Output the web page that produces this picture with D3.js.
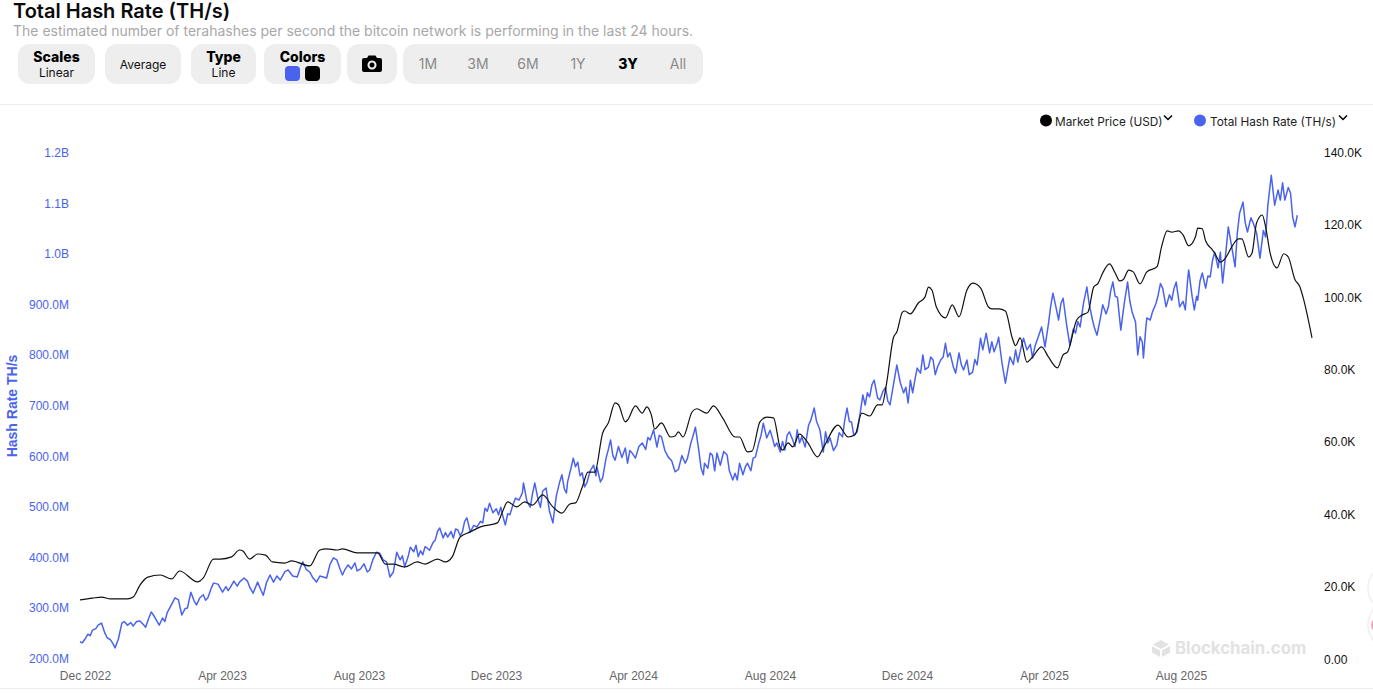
<!DOCTYPE html>
<html>
<head>
<meta charset="utf-8">
<script src="https://cdn.jsdelivr.net/npm/d3@7"></script>
<style>
  html, body { margin: 0; padding: 0; background: #fff; overflow: hidden; }
  text { font-family: Inter, sans-serif; }
  .axis text { font-family: "Liberation Sans", Arial, sans-serif; font-size: 12px; }
</style>
</head>
<body>
<svg id="chart" width="1373" height="693"></svg>
<script>
// days since startDate
const startDate = new Date(2022, 10, 28);

// [day, TH/s in millions]
const hashPoints = [[0,232],[2,230],[4,236],[7,247],[9,244],[11,255],[14,258],[16,265],[19,269],[22,249],[24,240],[27,236],[29,229],[31,220],[34,238],[37,269],[39,272],[42,265],[45,270],[47,263],[50,272],[53,273],[56,266],[58,261],[61,280],[63,291],[66,281],[70,265],[73,279],[75,272],[77,289],[81,306],[84,319],[87,315],[90,285],[93,298],[95,299],[98,330],[101,312],[103,305],[106,319],[109,325],[111,314],[113,319],[116,338],[118,348],[122,346],[126,330],[129,341],[131,333],[133,340],[136,352],[139,342],[141,350],[145,358],[148,352],[150,340],[153,328],[157,350],[160,334],[162,324],[165,350],[168,364],[171,350],[174,362],[177,354],[181,370],[184,374],[188,362],[192,360],[195,380],[197,390],[200,375],[203,370],[206,358],[209,350],[212,362],[215,360],[218,358],[221,385],[224,398],[227,394],[230,375],[232,364],[234,374],[237,384],[240,376],[243,388],[245,372],[248,376],[251,386],[254,370],[256,374],[259,395],[262,409],[265,407],[268,394],[271,390],[274,360],[277,370],[280,409],[283,394],[285,402],[287,380],[290,400],[292,419],[295,410],[297,423],[299,400],[301,412],[303,404],[305,420],[307,417],[309,413],[312,428],[314,433],[316,450],[318,457],[321,437],[323,448],[325,439],[328,450],[330,437],[332,455],[334,453],[336,442],[338,449],[340,470],[342,477],[345,449],[348,462],[351,459],[354,470],[356,467],[358,496],[360,490],[362,506],[365,487],[368,495],[370,483],[372,498],[374,478],[376,463],[378,485],[380,483],[383,505],[385,516],[388,512],[391,526],[392,546],[395,510],[398,498],[400,525],[402,546],[405,512],[407,498],[409,530],[412,536],[415,490],[418,467],[421,520],[424,548],[426,562],[428,535],[430,526],[431,548],[434,575],[436,595],[438,578],[440,587],[442,560],[444,566],[446,538],[448,546],[451,570],[454,581],[456,560],[457,577],[460,548],[462,556],[465,595],[467,612],[469,631],[471,600],[473,591],[476,618],[479,596],[482,615],[484,585],[486,610],[488,605],[491,595],[494,618],[497,625],[500,612],[502,636],[504,631],[507,651],[510,617],[512,640],[514,637],[517,610],[520,597],[523,590],[526,568],[529,573],[532,600],[535,585],[537,595],[540,625],[542,640],[544,656],[547,610],[549,575],[551,562],[552,585],[555,575],[557,605],[559,601],[561,570],[563,605],[566,581],[569,608],[572,601],[574,570],[577,552],[579,565],[581,552],[583,585],[586,562],[588,577],[590,585],[593,570],[595,595],[597,597],[600,625],[602,640],[604,664],[607,635],[610,650],[612,635],[614,618],[616,625],[619,607],[621,628],[623,611],[625,640],[627,647],[630,631],[632,618],[634,651],[636,625],[638,637],[641,617],[644,660],[646,670],[649,694],[651,668],[654,651],[657,607],[659,647],[661,625],[663,635],[666,610],[669,621],[671,645],[674,637],[676,670],[678,694],[680,668],[682,666],[684,640],[687,647],[690,690],[692,720],[694,700],[696,724],[698,716],[700,740],[702,749],[705,714],[707,710],[710,728],[712,735],[714,708],[716,700],[719,740],[722,779],[725,745],[728,724],[730,735],[732,704],[734,749],[736,724],[738,750],[740,773],[743,763],[745,799],[747,770],[750,775],[752,795],[754,789],[756,760],[758,775],[761,790],[763,795],[765,822],[767,795],[769,803],[772,775],[774,763],[777,803],[779,780],[781,769],[784,789],[786,760],[789,765],[791,790],[793,779],[796,832],[798,809],[801,842],[804,803],[806,825],[808,805],[811,824],[812,834],[815,783],[818,743],[820,770],[822,795],[825,780],[827,809],[829,785],[832,815],[834,832],[837,809],[840,820],[842,793],[844,815],[846,828],[850,854],[853,815],[856,860],[858,895],[860,921],[863,890],[865,868],[867,900],[869,911],[872,860],[875,818],[878,850],[880,842],[882,865],[884,854],[887,901],[890,933],[892,900],[895,868],[897,850],[899,838],[902,872],[904,898],[907,880],[909,894],[911,925],[913,943],[915,915],[917,913],[920,848],[923,900],[926,943],[928,905],[930,884],[933,864],[935,799],[937,835],[939,824],[940,793],[942,850],[943,872],[946,868],[948,884],[951,900],[953,917],[955,940],[957,931],[960,894],[963,918],[965,907],[967,930],[969,943],[972,894],[975,905],[977,888],[979,945],[980,967],[983,915],[985,888],[987,915],[988,907],[990,945],[992,961],[995,931],[997,955],[999,953],[1001,985],[1003,1002],[1006,971],[1008,1002],[1010,941],[1013,1005],[1015,1052],[1017,1026],[1019,1000],[1021,973],[1023,1040],[1025,1079],[1028,1101],[1030,1060],[1032,1042],[1035,1070],[1037,1060],[1040,1040],[1043,990],[1046,1045],[1048,1032],[1050,1095],[1053,1154],[1056,1095],[1059,1125],[1061,1105],[1063,1139],[1065,1105],[1068,1130],[1070,1119],[1072,1070],[1074,1052],[1076,1075]];

// [day, USD in thousands]
const pricePoints = [[0,16.3],[11,16.8],[19,17.1],[27,16.6],[42,16.6],[47,17.1],[53,20.4],[60,22.6],[71,23.2],[81,22.1],[88,24.3],[104,21.3],[109,22.4],[118,27.6],[124,27.6],[134,28.2],[141,30.1],[144,29.8],[150,27.6],[157,29.0],[164,28.7],[170,26.8],[181,26.5],[187,27.1],[203,25.7],[212,30.1],[218,30.4],[227,30.1],[232,30.4],[245,29.3],[263,29.3],[270,26.2],[277,26.2],[287,25.4],[298,26.8],[305,26.2],[316,27.6],[323,26.8],[329,28.2],[336,33.7],[345,35.1],[354,36.5],[369,37.6],[373,40.3],[378,43.4],[386,42.0],[393,43.4],[400,42.5],[409,45.3],[418,42.0],[426,40.3],[433,42.8],[438,43.1],[444,47.5],[449,51.6],[455,51.6],[462,62.4],[467,65.2],[473,70.7],[476,70.2],[482,65.5],[484,66.0],[491,69.9],[497,67.9],[501,69.6],[505,67.4],[508,63.5],[514,65.2],[522,61.3],[526,61.6],[529,62.7],[533,61.3],[541,68.2],[545,69.1],[554,67.9],[560,69.9],[568,66.6],[579,61.3],[583,61.3],[590,57.2],[594,57.4],[601,65.5],[607,66.8],[613,66.6],[619,58.3],[621,57.7],[626,59.7],[630,58.6],[636,62.1],[643,59.9],[652,55.8],[657,58.3],[670,64.6],[679,61.3],[685,61.9],[691,67.9],[698,67.1],[705,70.2],[709,70.2],[713,76.2],[719,88.7],[722,90.3],[727,95.8],[729,96.1],[734,95.3],[741,98.3],[747,100.0],[750,102.7],[753,101.9],[757,97.2],[765,94.2],[771,97.8],[777,94.5],[784,101.9],[789,103.8],[796,102.5],[803,97.2],[806,96.7],[812,96.7],[818,96.1],[824,88.7],[827,86.5],[831,88.7],[837,82.0],[842,83.4],[850,86.2],[856,83.4],[864,80.4],[869,84.0],[873,84.8],[881,93.6],[886,95.0],[891,95.8],[896,102.7],[900,103.8],[904,106.6],[910,109.1],[915,106.6],[919,104.4],[922,104.7],[927,107.4],[931,106.9],[937,103.6],[943,106.9],[952,108.3],[956,113.8],[961,118.2],[965,117.9],[971,118.2],[975,117.1],[980,114.1],[986,116.6],[988,119.0],[992,118.8],[995,115.4],[1001,113.0],[1003,112.1],[1008,109.6],[1012,110.5],[1019,114.3],[1024,116.0],[1027,116.0],[1033,111.0],[1036,112.1],[1040,120.4],[1045,122.6],[1048,119.3],[1052,112.1],[1058,108.0],[1064,111.9],[1068,111.0],[1074,104.7],[1078,103.0],[1081,100.0],[1089,88.7]];

const hashTicks = [200,300,400,500,600,700,800,900,1000,1100,1200];
const hashTickLabels = ["200.0M","300.0M","400.0M","500.0M","600.0M","700.0M","800.0M","900.0M","1.0B","1.1B","1.2B"];
const priceTicks = [0,20,40,60,80,100,120,140];
const priceTickLabels = ["0.00","20.0K","40.0K","60.0K","80.0K","100.0K","120.0K","140.0K"];
const monthLabels = ["Dec 2022","Apr 2023","Aug 2023","Dec 2023","Apr 2024","Aug 2024","Dec 2024","Apr 2025","Aug 2025"];
const rangeLabels = ["1M","3M","6M","1Y","3Y","All"];

const BLUE = "#4a63ee";
const svg = d3.select("#chart");

const toDate = (n) => d3.timeDay.offset(startDate, n);

const xScale = d3.scaleTime().domain([toDate(0), toDate(1089)]).range([80, 1312]);
const monthScale = d3.scalePoint().domain(monthLabels).range([85, 1181]);
const hashScale = d3.scaleLinear().domain([200, 1200]).range([658, 152]);
const priceScale = d3.scaleLinear().domain([0, 140]).range([659, 152]);

// header
svg.append("text").attr("x", 13).attr("y", 18).attr("font-size", 20).attr("font-weight", 600).attr("fill", "#0b0b0b").text("Total Hash Rate (TH/s)");
svg.append("text").attr("x", 13).attr("y", 36).attr("font-size", 14).attr("fill", "#a8a8a8").text("The estimated number of terahashes per second the bitcoin network is performing in the last 24 hours.");

const btn = (x, w) => svg.append("rect").attr("x", x).attr("y", 44).attr("width", w).attr("height", 40).attr("rx", 12).attr("fill", "#eeeeee");
const label = (x, y, size, weight, fill, s) => svg.append("text").attr("x", x).attr("y", y).attr("text-anchor", "middle").attr("font-size", size).attr("font-weight", weight).attr("fill", fill).text(s);

btn(18, 77); label(56.5, 62, 14, 800, "#000", "Scales"); label(56.5, 77, 12, 400, "#111", "Linear");
btn(105, 76); label(143, 69, 12, 400, "#111", "Average");
btn(191, 65); label(223.5, 62, 14, 800, "#000", "Type"); label(223.5, 77, 12, 400, "#111", "Line");
btn(264, 77); label(302.5, 62, 14, 800, "#000", "Colors");
svg.append("rect").attr("x", 285).attr("y", 66).attr("width", 15).attr("height", 15).attr("rx", 4).attr("fill", BLUE);
svg.append("rect").attr("x", 305).attr("y", 66).attr("width", 15).attr("height", 15).attr("rx", 4).attr("fill", "#000");
btn(347, 50);
svg.append("path").attr("fill", "#000").attr("fill-rule", "evenodd")
  .attr("d", "M364 58h3l1.5-2.5h7L377 58h3a2 2 0 0 1 2 2v10a2 2 0 0 1-2 2h-16a2 2 0 0 1-2-2V60a2 2 0 0 1 2-2zM372 60.5a4.5 4.5 0 1 0 .01 0zM372 62.5a2.5 2.5 0 1 1-.01 0z");
btn(403, 300);
rangeLabels.forEach((s, i) => {
  const on = s === "3Y";
  label(428 + i * 50, 69, 14, on ? 800 : 400, on ? "#000" : "#8a8a8a", s);
});
svg.append("line").attr("x1", 0).attr("x2", 1373).attr("y1", 104.5).attr("y2", 104.5).attr("stroke", "#ececec");
svg.append("line").attr("x1", 0).attr("x2", 1373).attr("y1", 688.5).attr("y2", 688.5).attr("stroke", "#ececec");

// legend
svg.append("circle").attr("cx", 1046).attr("cy", 120.5).attr("r", 6).attr("fill", "#000");
svg.append("text").attr("x", 1055).attr("y", 125.5).attr("font-size", 11.8).attr("fill", "#222").text("Market Price (USD)");
svg.append("circle").attr("cx", 1200).attr("cy", 120.5).attr("r", 6).attr("fill", BLUE);
svg.append("text").attr("x", 1210).attr("y", 125.5).attr("font-size", 11.8).attr("fill", "#222").text("Total Hash Rate (TH/s)");
[1168, 1343].forEach((cx) => {
  svg.append("path").attr("d", `M${cx - 4} 115.5l4 4l4-4`).attr("fill", "none").attr("stroke", "#000").attr("stroke-width", 1.5);
});

// watermark
svg.append("path").attr("fill", "#e2e2e2").attr("d", "M1161 640l8 4.5l-8 4.5l-8-4.5zM1152 646l8 4.5v6.5l-8-4.5zM1170 646v6.5l-8 4.5v-6.5z");
svg.append("text").attr("x", 1175).attr("y", 654).attr("font-size", 16.8).attr("font-weight", 700).attr("fill", "#e2e2e2").text("Blockchain.com");

// floating page buttons cut by the right edge
svg.append("circle").attr("cx", 1392).attr("cy", 588).attr("r", 24).attr("fill", "#fff").attr("stroke", "#f3f3f3").attr("stroke-width", 2);
svg.append("circle").attr("cx", 1392).attr("cy", 625).attr("r", 24).attr("fill", "#fff").attr("stroke", "#f3f3f3").attr("stroke-width", 2);
svg.append("circle").attr("cx", 1379).attr("cy", 625).attr("r", 8).attr("fill", "#f3a3bf");

// axes
const xAxis = d3.axisBottom(monthScale).tickSize(0).tickPadding(0);
const xG = svg.append("g").attr("class", "axis").attr("transform", "translate(0,671)").call(xAxis);
xG.select(".domain").remove();
xG.selectAll("text").attr("fill", "#666");

const leftAxis = d3.axisLeft(hashScale).tickValues(hashTicks).tickFormat((d, i) => hashTickLabels[i]).tickSize(0).tickPadding(0);
const leftG = svg.append("g").attr("class", "axis").attr("transform", "translate(69,0.6)").call(leftAxis);
leftG.select(".domain").remove();
leftG.selectAll("text").attr("fill", BLUE);

const rightAxis = d3.axisRight(priceScale).tickValues(priceTicks).tickFormat((d, i) => priceTickLabels[i]).tickSize(0).tickPadding(0);
const rightG = svg.append("g").attr("class", "axis").attr("transform", "translate(1324,0.3)").call(rightAxis);
rightG.select(".domain").remove();
rightG.selectAll("text").attr("fill", "#111");

svg.append("text").attr("transform", "translate(17,406) rotate(-90)").attr("text-anchor", "middle")
  .style("font-family", "'Liberation Sans', Arial, sans-serif").attr("font-size", 14).attr("font-weight", 700).attr("fill", BLUE).text("Hash Rate TH/s");

// lines
const hashLine = d3.line().x((d) => xScale(toDate(d[0]))).y((d) => hashScale(d[1]));
const priceLine = d3.line().x((d) => xScale(toDate(d[0]))).y((d) => priceScale(d[1])).curve(d3.curveMonotoneX);

svg.append("path").datum(hashPoints).attr("d", hashLine).attr("fill", "none").attr("stroke", BLUE).attr("stroke-width", 1.5).attr("stroke-linejoin", "round");
svg.append("path").datum(pricePoints).attr("d", priceLine).attr("fill", "none").attr("stroke", "#111").attr("stroke-width", 1.2).attr("stroke-linejoin", "round");
</script>
</body>
</html>
